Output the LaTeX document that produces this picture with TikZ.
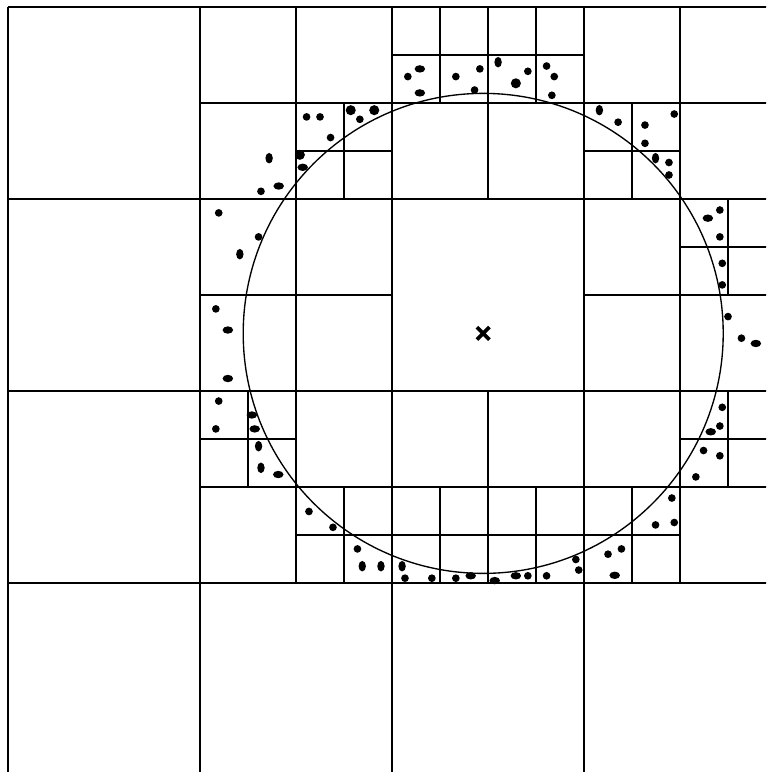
\documentclass[tikz,border=0pt]{standalone}
\usepackage{tikz}

\begin{document}
\begin{tikzpicture}[x=0.5cm,y=0.5cm]
	\tikzset{cellline/.style={line width=0.45pt}}
	\useasboundingbox (-0.1667,0.0625) rectangle (15.7917,16.1458);
	\clip (-0.1667,0.0625) rectangle (15.7917,16.1458);
	% coarse cells
	\draw [cellline] (0,0) grid[step=4] (16,16);
	% second level
	\foreach \x/\y in {4/12,8/12,12/12,4/8,12/8,4/4,8/4,12/4}
		\draw [cellline] (\x+2,\y) -- ++(0,4) (\x,\y+2) -- ++(4,0);
	% third level
	\foreach \x/\y in {6/12,8/14,10/14,12/12,14/10,4/6,6/4,8/4,10/4,14/6,12/4}
		\draw [cellline] (\x+1,\y) -- ++(0,2) (\x,\y+1) -- ++(2,0);
	% circle and centre
	\coordinate (c) at (9.9,9.2);
	\draw (c) circle (5);
	\draw [line width=1.1pt] (c) ++(-0.13,-0.13) -- ++(0.26,0.26) (c) ++(-0.13,0.13) -- ++(0.26,-0.26);
	% points
	\foreach \p in {(6.22,13.71),(6.50,13.71),(7.33,13.66),(6.72,13.28),(5.27,12.16),
		(8.33,14.55),(9.33,14.55),(9.83,14.71),(9.72,14.27),(10.83,14.66),(11.22,14.77),(11.38,14.55),(11.33,14.16),
		(12.71,13.60),(13.27,13.54),(13.27,13.16),(13.88,13.77),(13.77,12.76),(13.77,12.50),
		(14.83,11.77),(14.83,11.21),(14.88,10.66),(14.88,10.21),(15.00,9.55),(15.28,9.10),
		(4.39,11.71),(5.22,11.21),(4.33,9.71),(4.39,7.79),(4.33,7.21),
		(6.27,5.49),(6.77,5.16),(7.28,4.71),(8.27,4.10),(8.83,4.10),(9.33,4.10),(10.83,4.15),(11.22,4.15),(11.83,4.49),(11.89,4.27),
		(12.50,4.60),(12.78,4.71),(13.49,5.21),(13.88,5.26),(13.83,5.77),(14.33,6.21),(14.49,6.76),(14.83,6.65),(14.83,7.27),(14.88,7.66)}
		\fill \p circle (0.08);
	\foreach \p in {(7.14,13.85),(7.63,13.85),(6.08,12.92),(10.58,14.41)}
		\fill \p circle (0.105);
	\foreach \p in {(6.14,12.66),(5.64,12.27),(8.58,14.71),(8.58,14.21),(14.58,11.60),(15.58,8.99),(4.58,9.27),(4.58,8.26),
		(5.08,7.50),(5.14,7.21),(5.63,6.26),(9.64,4.15),(10.14,4.05),(10.58,4.15),(12.64,4.16),(14.64,7.15)}
		\fill \p ellipse [x radius=0.11, y radius=0.077];
	\foreach \p in {(5.44,12.85),(10.21,14.85),(12.32,13.85),(13.49,12.85),(4.83,10.85),(5.22,6.85),(5.27,6.40),
		(7.38,4.35),(7.77,4.35),(8.21,4.35)}
		\fill \p ellipse [x radius=0.077, y radius=0.11];
\end{tikzpicture}
\end{document}
